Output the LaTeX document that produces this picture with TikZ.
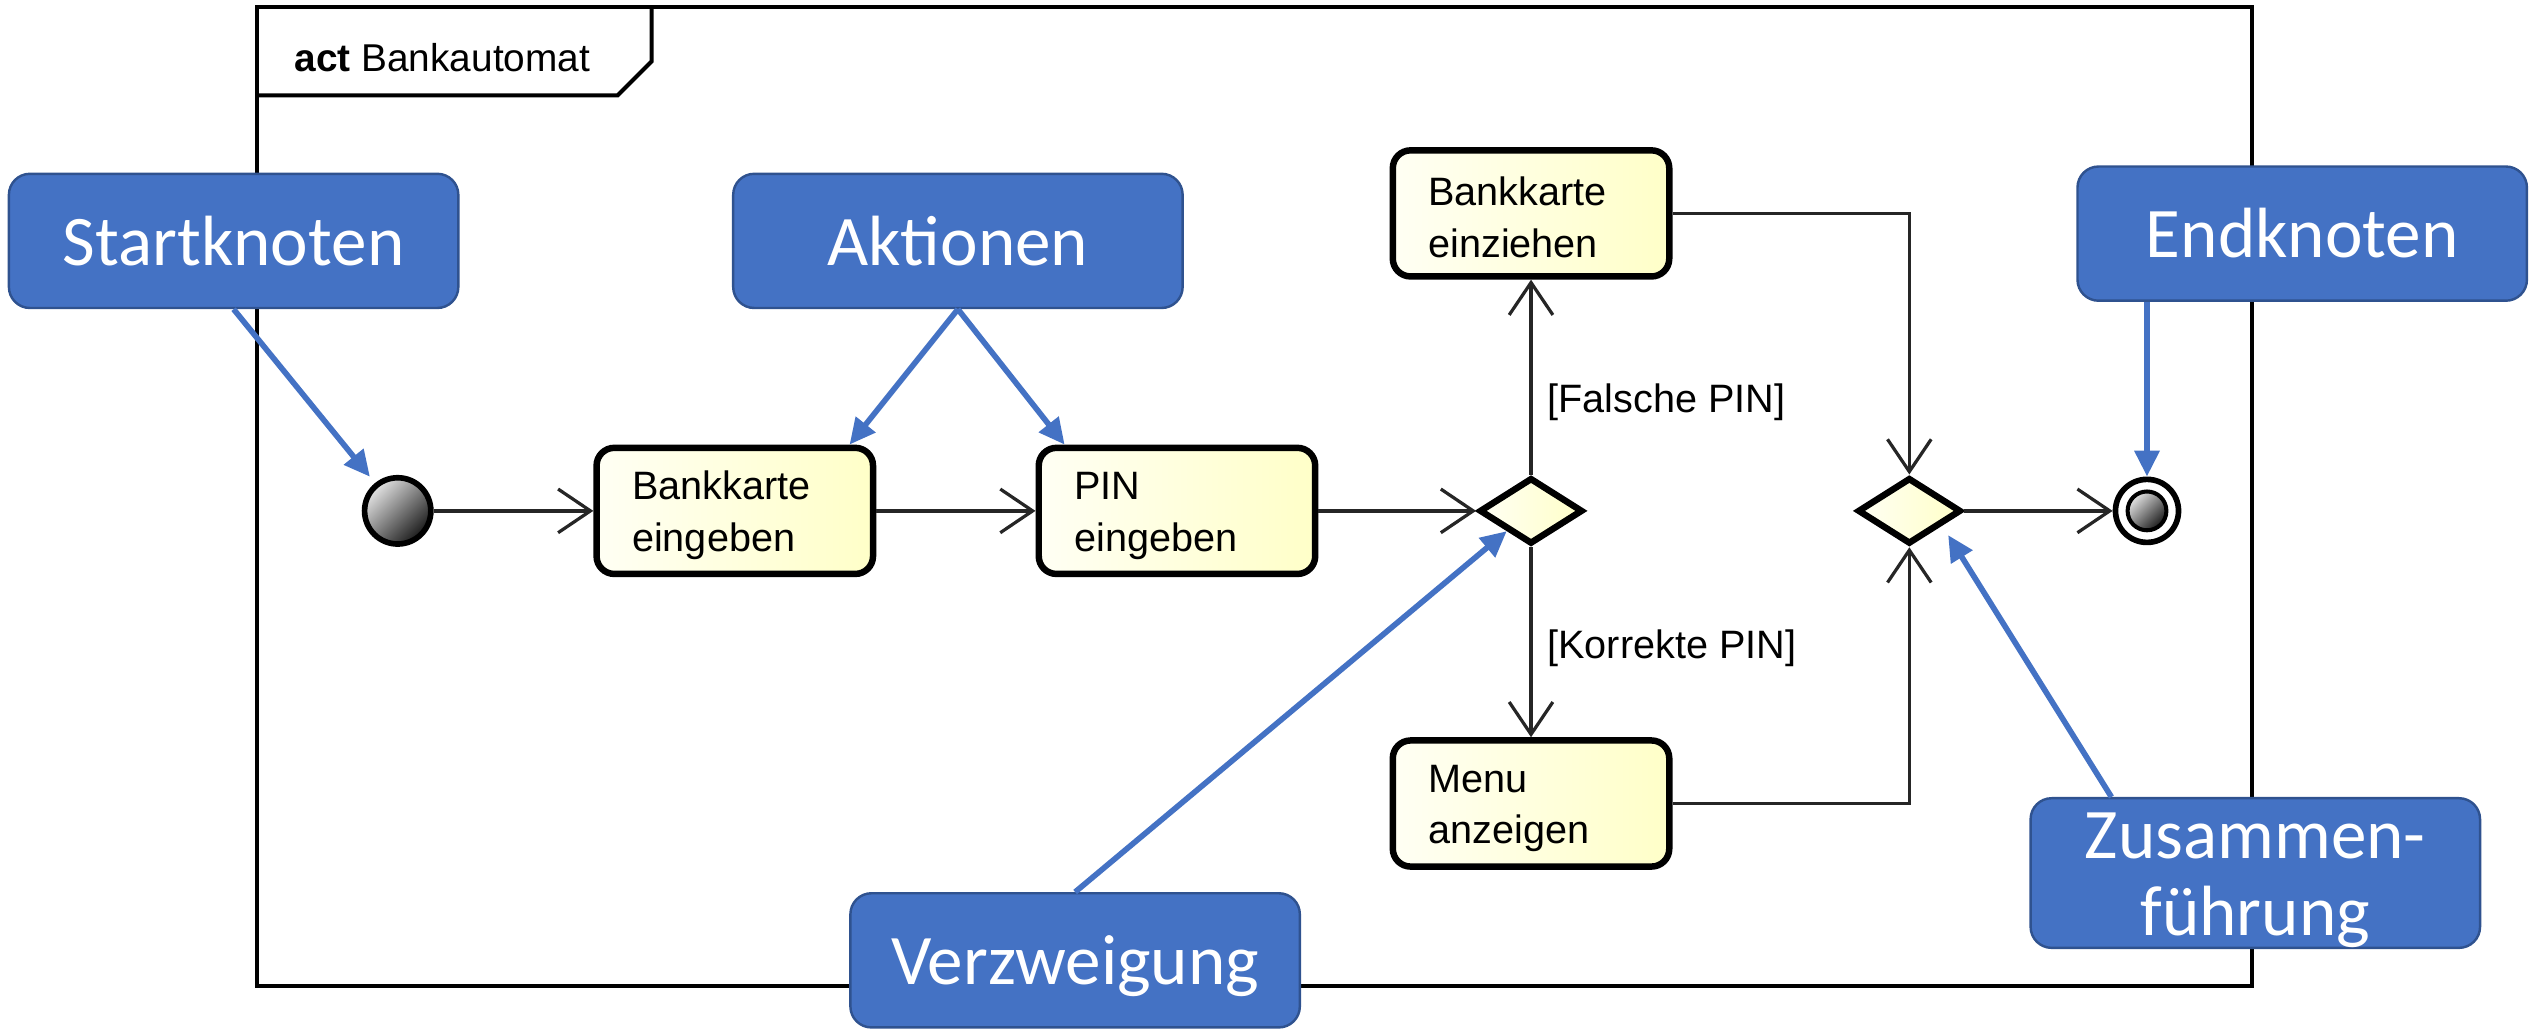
\documentclass[tikz,border=0pt]{standalone}
\usepackage{fontspec}
\setmainfont{Liberation Sans}
\newfontfamily\calibri{Carlito}
\usetikzlibrary{shapes.geometric,arrows.meta}
\definecolor{cblue}{HTML}{4472C4}
\definecolor{cborder}{HTML}{2F528F}
\definecolor{actL}{HTML}{FFFFF4}
\definecolor{actR}{HTML}{FFFFC8}
\newcommand{\lnstrut}{\rule{0pt}{23pt}}
\begin{document}
\begin{tikzpicture}[x=1pt,y=-1pt,
  actbox/.style={draw, line width=4pt, rounded corners=11pt, left color=actL, right color=actR,
    align=left, text width=127pt, inner xsep=22pt, inner ysep=0pt, minimum height=78pt,
    font=\fontsize{24.5}{32}\selectfont},
  decbox/.style={diamond, draw, line width=4pt, left color=actL, right color=actR,
    minimum width=64pt, minimum height=41pt, inner sep=0pt, aspect=1.6},
  ballshade/.style={top color=gray!20, bottom color=black!90, shading angle=45},
  flow/.style={draw=black!85, line width=2pt, -{Straight Barb[length=20pt,width=27pt]}},
  guard/.style={anchor=base west, inner sep=0pt, font=\fontsize{24.5}{24.5}\selectfont},
  callout/.style={draw=cborder, line width=1.5pt, fill=cblue, rounded corners=13pt, text=white,
    font=\calibri\fontsize{44}{48}\selectfont, minimum width=278pt, minimum height=83pt,
    inner sep=0pt, align=center},
  oneline/.style={text height=30pt, text depth=0pt},
  bluearrow/.style={draw=cblue, line width=3.5pt, -{Triangle[length=16pt,width=15pt]}}
]
\useasboundingbox (0,0) rectangle (1568,639.6);
% frame
\draw[line width=2.5pt] (159,4.5) rectangle (1393,610);
\draw[line width=2.5pt] (159,59) -- (382,59) -- (403,38) -- (403,4.5);
\node[anchor=base west, inner sep=0pt, font=\fontsize{24}{24}\selectfont] (title) at (182,44) {\textbf{act} Bankautomat};

% activity nodes
\node[circle, draw, line width=3.5pt, minimum size=41pt, inner sep=0pt, ballshade] (start) at (246,316) {};
\node[actbox] (b1) at (454.5,316) {\lnstrut Bankkarte\\eingeben};
\node[actbox] (b2) at (728,316) {\lnstrut PIN\\eingeben};
\node[decbox] (d1) at (947,316) {};
\node[actbox] (b3) at (947,132) {\lnstrut Bankkarte\\einziehen};
\node[actbox] (b4) at (947,497) {\lnstrut Menu\\anzeigen};
\node[decbox] (d2) at (1181,316) {};
\node[circle, draw, line width=3.5pt, fill=white, minimum size=39pt, inner sep=0pt] (en) at (1328,316) {};
\node[circle, draw, line width=2.5pt, minimum size=24pt, inner sep=0pt, ballshade] (eni) at (1328,316) {};

% flows
\draw[flow] (start) -- (b1);
\draw[flow] (b1) -- (b2);
\draw[flow] (b2) -- (d1);
\draw[flow] (d1) -- (b3);
\draw[flow] (d1) -- (b4);
\draw[flow] (b3) -| (d2);
\draw[flow] (b4) -| (d2);
\draw[flow] (d2) -- (en);
\node[guard] (g1) at (957,255) {[Falsche PIN]};
\node[guard] (g2) at (957,407) {[Korrekte PIN]};

% callouts
\node[callout, oneline] (sk) at (144.5,149) {Startknoten};
\node[callout, oneline] (ak) at (592.5,149) {Aktionen};
\node[callout, oneline] (ek) at (1424,144.5) {Endknoten};
\node[callout, oneline] (vz) at (665,594) {Verzweigung};
\node[callout] (zf) at (1395,540) {\rule{0pt}{37pt}Zusammen-\\führung};
\coordinate (zftip) at (1205,331);

\draw[bluearrow, shorten >=5pt] (sk.south) -- (start);
\draw[bluearrow] (ak.south) -- ([xshift=-16.5pt]b1.north east);
\draw[bluearrow] (ak.south) -- ([xshift=18pt]b2.north west);
\draw[bluearrow] (ek.south -| en) -- (en.north);
\draw[bluearrow] (vz.north) -- (d1);
\draw[bluearrow] ([xshift=-89pt]zf.north) -- (zftip);
\end{tikzpicture}
\end{document}
